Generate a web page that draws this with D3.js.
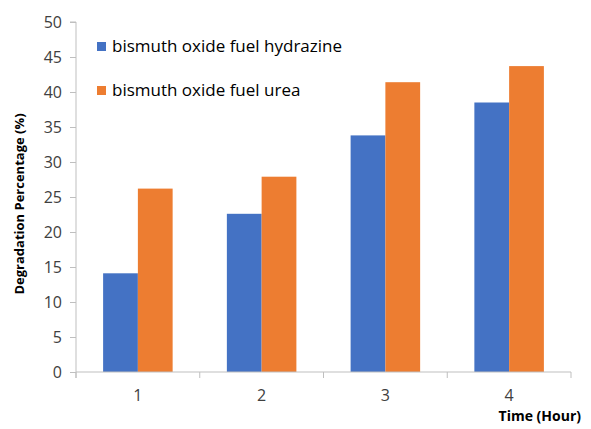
<!DOCTYPE html>
<html>
<head>
<meta charset="utf-8">
<script src="https://cdn.jsdelivr.net/npm/d3@7"></script>
<style>
  html, body { margin: 0; padding: 0; background: #fff; }
  svg { display: block; font-family: "Open Sans", "Liberation Sans", sans-serif; }
</style>
</head>
<body>
<svg id="chart" width="591" height="429"></svg>
<script>
// Degradation percentage over time for two bismuth oxide fuels
const hours = ["1", "2", "3", "4"];
const seriesNames = ["bismuth oxide fuel hydrazine", "bismuth oxide fuel urea"];
const hydrazine = [14.1, 22.6, 33.8, 38.5];
const urea = [26.2, 27.9, 41.4, 43.7];
const yTicks = [0, 5, 10, 15, 20, 25, 30, 35, 40, 45, 50];
const colors = ["#4472C4", "#ED7D31"];

const rows = hours.map((h, i) => ({ hour: h, values: [hydrazine[i], urea[i]] }));

const svg = d3.select("#chart");
const plotLeft = 76, plotRight = 571, plotTop = 22, plotBottom = 372;

const x = d3.scaleBand().domain(hours).range([plotLeft, plotRight]).paddingInner(0).paddingOuter(0);
const inner = d3.scaleBand().domain([0, 1]).range([0, x.bandwidth()]).paddingInner(0).paddingOuter(0.78);
const y = d3.scaleLinear().domain([0, 50]).range([plotBottom, plotTop]);

// bars
const groups = svg.append("g").selectAll("g").data(rows).join("g")
  .attr("transform", d => `translate(${x(d.hour)},0)`);
groups.selectAll("rect").data(d => d.values).join("rect")
  .attr("x", (v, i) => inner(i))
  .attr("width", inner.bandwidth())
  .attr("y", v => y(v))
  .attr("height", v => y(0) - y(v))
  .attr("fill", (v, i) => colors[i]);

// y axis
const yAxis = svg.append("g").attr("transform", `translate(${plotLeft},0)`)
  .call(d3.axisLeft(y).tickValues(yTicks).tickSize(6).tickPadding(8));
yAxis.select(".domain").attr("stroke", "#BFBFBF").attr("d", `M-6,${plotTop}H0V${plotBottom + 6}`);
yAxis.selectAll(".tick line").attr("stroke", "#BFBFBF");
yAxis.selectAll(".tick text").attr("fill", "#404040").style("font-size", "16px")
  .style("font-family", "'Open Sans', sans-serif");

// x axis with boundary ticks between categories
const xAxis = svg.append("g").attr("transform", `translate(0,${plotBottom})`);
xAxis.append("line").attr("x1", plotLeft).attr("x2", plotRight).attr("y1", 0).attr("y2", 0).attr("stroke", "#BFBFBF");
const boundaries = hours.map(h => x(h)).concat([x(hours[hours.length - 1]) + x.bandwidth()]);
xAxis.selectAll("line.b").data(boundaries).join("line").attr("class", "b")
  .attr("x1", d => d).attr("x2", d => d).attr("y1", 0).attr("y2", 6).attr("stroke", "#BFBFBF");
xAxis.selectAll("text").data(hours).join("text")
  .attr("x", d => x(d) + x.bandwidth() / 2).attr("y", 29)
  .attr("text-anchor", "middle").attr("fill", "#404040")
  .style("font-size", "16px").style("font-family", "'Open Sans', sans-serif")
  .text(d => d);

// axis titles
svg.append("text").attr("x", 581).attr("y", 421).attr("text-anchor", "end")
  .style("font-size", "14px").style("font-weight", "bold").attr("fill", "#000")
  .text("Time (Hour)");
svg.append("text").attr("transform", "translate(24,204) rotate(-90)").attr("text-anchor", "middle")
  .style("font-size", "13px").style("font-weight", "bold").attr("fill", "#000")
  .text("Degradation Percentage (%)");

// legend
const legend = svg.append("g").selectAll("g").data(seriesNames).join("g")
  .attr("transform", (d, i) => `translate(97,${42 + i * 44})`);
legend.append("rect").attr("width", 9).attr("height", 9).attr("fill", (d, i) => colors[i]);
legend.append("text").attr("x", 15).attr("y", 10).attr("fill", "#000")
  .style("font-size", "17px").text(d => d);
</script>
</body>
</html>
